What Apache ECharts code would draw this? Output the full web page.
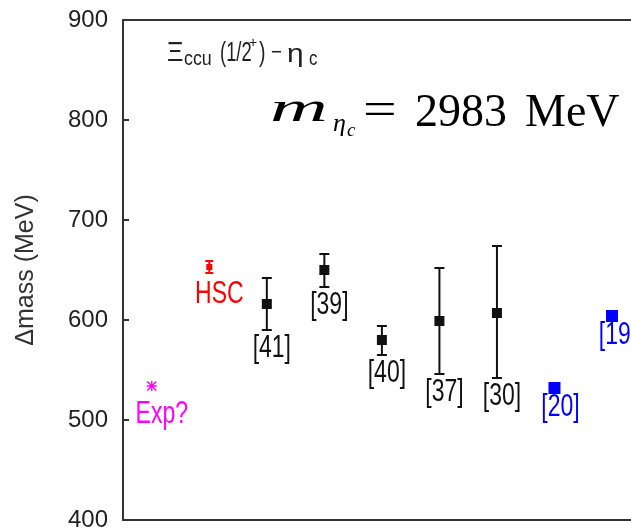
<!DOCTYPE html>
<html>
<head>
<meta charset="utf-8">
<script src="https://cdn.jsdelivr.net/npm/echarts@6/dist/echarts.min.js"></script>
<style>
  html, body { margin: 0; padding: 0; background: #fff; }
  #chart { width: 631px; height: 528px; }
</style>
</head>
<body>
<div id="chart"></div>
<script>
  // values (MeV)
  const refLabels = ['Exp?', 'HSC', '[41]', '[39]', '[40]', '[37]', '[30]', '[20]', '[19]'];
  const massDiff = [534, 653, 616, 650, 580, 599, 607, 532, 604];
  const errLow = [null, 647, 590, 633, 565, 546, 542, null, null];
  const errHigh = [null, 659, 642, 666, 594, 652, 674, null, null];
  const refGroup = ['exp', 'hsc', 'lat', 'lat', 'lat', 'lat', 'lat', 'blue', 'blue'];
  const yTicks = [400, 500, 600, 700, 800, 900];

  const sans = "'Liberation Sans', Arial, sans-serif";
  const serif = "'Liberation Serif', 'DejaVu Serif', serif";
  const starPath = 'path://M4.3,0H5.7V10H4.3Z M0,4.3H10V5.7H0Z M1,0L10,9L9,10L0,1Z M9,0L10,1L1,10L0,9Z';

  // marker / label look per group, label offset in px from the lower end of the bar
  const groupStyle = {
    exp: { color: '#ff00ff', symbol: starPath, size: 10, cap: 0, dx: 10, dy: 12 },
    hsc: { color: '#ff0000', symbol: 'rect', size: 6, cap: 8, dx: 10, dy: 5 },
    lat: { color: '#111111', symbol: 'rect', size: 10, cap: 10, dx: 5, dy: 2 },
    blue: { color: '#0000ff', symbol: 'rect', size: 12, cap: 0, dx: 6, dy: 3 },
  };

  const chart = echarts.init(document.getElementById('chart'));

  // free-standing text pieces (title and the mass note)
  function txt(text, x, baseline, size, opts) {
    opts = opts || {};
    const family = opts.family || sans;
    const k = family === serif ? 0.24 : 0.16;
    return {
      type: 'text',
      x: x,
      y: baseline - k * size,
      scaleX: opts.scaleX || 1,
      scaleY: opts.scaleY || 1,
      z: 10,
      style: {
        text: text,
        font: (opts.style || 'normal') + ' ' + size + 'px ' + family,
        fill: opts.color || '#222',
        align: 'left',
        verticalAlign: 'middle',
      },
    };
  }

  const option = {
    animation: false,
    backgroundColor: '#fff',
    grid: { left: 123, right: 0, top: 20, bottom: 8, outerBoundsMode: 'none', containLabel: false },
    xAxis: [
      {
        type: 'value',
        min: -0.5,
        max: 8.33,
        position: 'bottom',
        axisLine: { show: true, onZero: false, lineStyle: { color: '#333', width: 2 } },
        axisTick: { show: false },
        axisLabel: { show: false },
        splitLine: { show: false },
      },
      {
        type: 'value',
        min: -0.5,
        max: 8.33,
        position: 'top',
        axisLine: { show: true, onZero: false, lineStyle: { color: '#333', width: 2 } },
        axisTick: { show: false },
        axisLabel: { show: false },
        splitLine: { show: false },
      },
    ],
    yAxis: {
      type: 'value',
      min: yTicks[0],
      max: yTicks[yTicks.length - 1],
      interval: yTicks[1] - yTicks[0],
      name: 'Δmass (MeV)',
      nameLocation: 'middle',
      nameGap: 84,
      nameTextStyle: { fontFamily: sans, fontSize: 25, color: '#333' },
      axisLine: { show: true, onZero: false, lineStyle: { color: '#333', width: 2 } },
      axisTick: { show: true, inside: true, length: 6, lineStyle: { color: '#333', width: 2 } },
      axisLabel: { margin: 15, fontFamily: sans, fontSize: 24, color: '#222' },
      splitLine: { show: false },
    },
    series: [
      {
        // error bars and reference labels
        type: 'custom',
        name: 'errors',
        z: 2,
        data: refLabels.map((r, i) => [i, massDiff[i], errLow[i] == null ? massDiff[i] : errLow[i], errHigh[i] == null ? massDiff[i] : errHigh[i]]),
        renderItem(params, api) {
          const i = api.value(0);
          const st = groupStyle[refGroup[i]];
          const lo = api.coord([i, api.value(2)]);
          const hi = api.coord([i, api.value(3)]);
          const w = st.cap / 2;
          const ls = { stroke: st.color, lineWidth: 2 };
          const children = [];
          if (errLow[i] != null) {
            children.push(
              { type: 'line', shape: { x1: lo[0], y1: lo[1], x2: hi[0], y2: hi[1] }, style: ls },
              { type: 'line', shape: { x1: lo[0] - w, y1: lo[1], x2: lo[0] + w, y2: lo[1] }, style: ls },
              { type: 'line', shape: { x1: hi[0] - w, y1: hi[1], x2: hi[0] + w, y2: hi[1] }, style: ls }
            );
          }
          children.push({
            type: 'text',
            x: lo[0] + st.dx,
            y: lo[1] + st.dy,
            scaleY: 1.38,
            style: {
              text: refLabels[i],
              font: '23px ' + sans,
              fill: st.color,
              align: 'center',
              verticalAlign: 'top',
            },
          });
          return { type: 'group', children: children };
        },
      },
      {
        type: 'scatter',
        name: 'points',
        z: 4,
        data: refLabels.map((r, i) => {
          const st = groupStyle[refGroup[i]];
          return {
            name: r,
            value: [i, massDiff[i]],
            symbol: st.symbol,
            symbolSize: st.size,
            itemStyle: { color: st.color, opacity: 1 },
          };
        }),
      },
    ],
    graphic: [
      // title  Ξccu (1/2+) − ηc
      txt('Ξ', 167, 57, 24, { scaleX: 1.05, scaleY: 1.15 }),
      txt('ccu', 184, 62, 17, { scaleX: 1.05, scaleY: 1.2 }),
      txt('(1/2', 220, 57, 23, { scaleX: 0.8, scaleY: 1.2 }),
      txt('+', 249, 45, 14),
      txt(')', 259, 57, 23, { scaleX: 0.85, scaleY: 1.2 }),
      txt('−', 271, 56, 22, { scaleX: 0.85 }),
      txt('η', 287, 59, 23, { scaleX: 1.3, scaleY: 1.1 }),
      txt('c', 309, 62, 17, { scaleY: 1.2 }),
      // m_{eta_c} = 2983 MeV
      txt('m', 270, 120, 40, { style: 'italic', family: serif, color: '#000', scaleX: 2.0 }),
      txt('η', 333, 130, 26, { style: 'italic', family: serif, color: '#000' }),
      txt('c', 347, 136, 19, { style: 'italic', family: serif, color: '#000' }),
      txt('=', 363, 123, 46, { family: serif, color: '#000', scaleX: 1.3 }),
      txt('2983', 415, 125, 46, { family: serif, color: '#000' }),
      txt('MeV', 525, 125, 46, { family: serif, color: '#000' }),
    ],
  };

  chart.setOption(option);
</script>
</body>
</html>
